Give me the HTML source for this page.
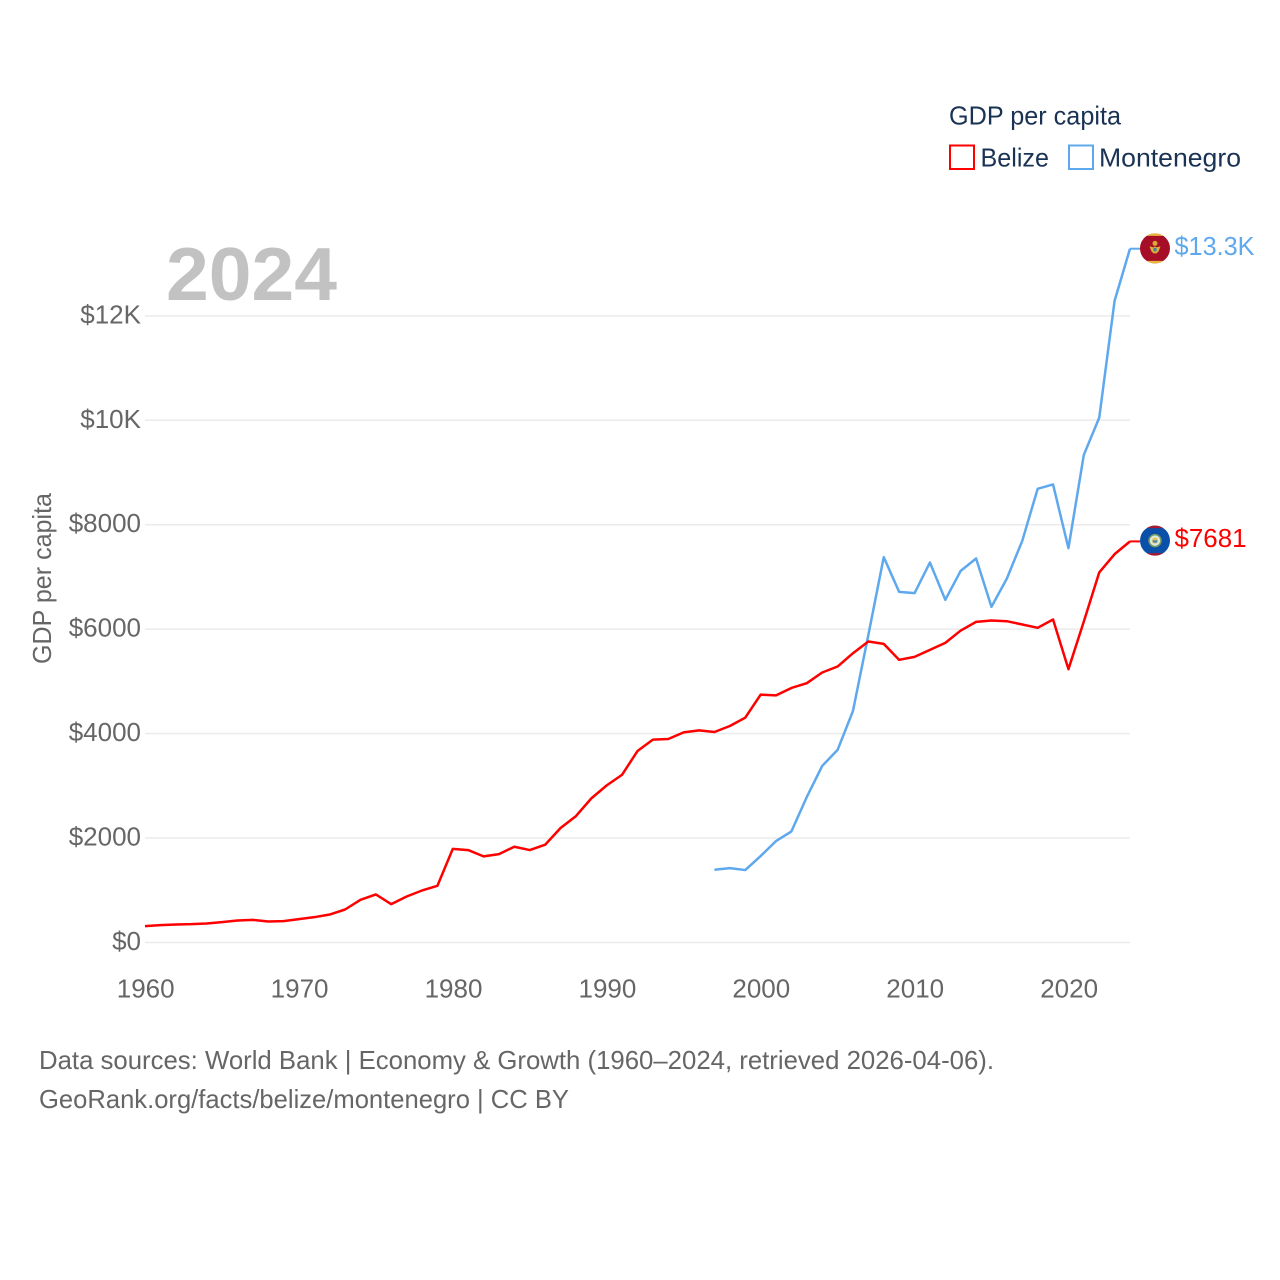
<!DOCTYPE html>
<html lang="en">
<head>
<meta charset="utf-8">
<title>GDP per capita: Belize and Montenegro</title>
<style>
  html, body { margin: 0; padding: 0; background: #fff; }
  svg { display: block; font-family: "Liberation Sans", sans-serif; }
</style>
</head>
<body>
<svg id="chart" xmlns="http://www.w3.org/2000/svg" width="1280" height="1280" viewBox="0 0 1280 1280">
  <rect width="1280" height="1280" fill="#ffffff"/>
  <g id="grid"></g>
  <g id="y-ticks"></g>
  <g id="x-ticks"></g>

  <text x="166" y="300" font-size="75" font-weight="700" fill="#c2c2c2" textLength="171" lengthAdjust="spacingAndGlyphs">2024</text>
  <text transform="translate(51,664) rotate(-90)" font-size="26" fill="#666666" textLength="171" lengthAdjust="spacingAndGlyphs">GDP per capita</text>

  <g id="series"></g>

  <g>
    <text x="949" y="124.500" font-size="26" fill="#1a3354" textLength="172" lengthAdjust="spacingAndGlyphs">GDP per capita</text>
    <g>
      <rect x="950" y="145.500" width="24" height="23.500" fill="#ffffff" stroke="#ff0000" stroke-width="2"/>
      <text x="980.500" y="166.500" font-size="26" fill="#1a3354" textLength="68.500" lengthAdjust="spacingAndGlyphs">Belize</text>
    </g>
    <g>
      <rect x="1069" y="145.500" width="24" height="23.500" fill="#ffffff" stroke="#5ea8ee" stroke-width="2"/>
      <text x="1099" y="166.500" font-size="26" fill="#1a3354" textLength="142" lengthAdjust="spacingAndGlyphs">Montenegro</text>
    </g>
  </g>

  <text x="39" y="1069" font-size="26" fill="#666666" textLength="955" lengthAdjust="spacingAndGlyphs">Data sources: World Bank | Economy &amp; Growth (1960–2024, retrieved 2026-04-06).</text>
  <text x="39" y="1108" font-size="26" fill="#666666" textLength="530" lengthAdjust="spacingAndGlyphs">GeoRank.org/facts/belize/montenegro | CC BY</text>
</svg>
<script>
const yTickValues = [0, 2000, 4000, 6000, 8000, 10000, 12000];
const yTickLabels = ["$0", "$2000", "$4000", "$6000", "$8000", "$10K", "$12K"];
const xTickYears = [1960, 1970, 1980, 1990, 2000, 2010, 2020];
const xTickLabels = ["1960", "1970", "1980", "1990", "2000", "2010", "2020"];

const belizeStartYear = 1960;
const belizeValues = [
  313, 332, 345, 351, 364, 390, 421, 434, 402, 409,
  447, 485, 536, 632, 817, 920, 734, 881, 996, 1086,
  1794, 1770, 1649, 1693, 1834, 1770, 1872, 2192, 2421, 2760,
  3009, 3213, 3667, 3884, 3897, 4024, 4063, 4031, 4146, 4305,
  4746, 4733, 4874, 4966, 5170, 5285, 5540, 5764, 5719, 5413,
  5470, 5604, 5738, 5974, 6140, 6166, 6153, 6089, 6026, 6185,
  5234, 6147, 7086, 7437, 7681
];
const belizeLabel = "$7681";

const montenegroStartYear = 1997;
const montenegroValues = [
  1393, 1425, 1387, 1655, 1943, 2128, 2787, 3381, 3688, 4435,
  5891, 7379, 6715, 6690, 7277, 6562, 7117, 7354, 6428, 6971,
  7692, 8688, 8771, 7552, 9339, 10048, 12290, 13286
];
const montenegroLabel = "$13.3K";

const NS = "http://www.w3.org/2000/svg";
function x(year) { return 145 + (year - 1960) * (985 / 64); }
function y(value) { return 942.5 - value * 0.05222; }
function make(tag, attrs, parent) {
  const el = document.createElementNS(NS, tag);
  for (const k in attrs) el.setAttribute(k, attrs[k]);
  parent.appendChild(el);
  return el;
}
const grid = document.getElementById("grid");
const yTicks = document.getElementById("y-ticks");
const xTicks = document.getElementById("x-ticks");
const series = document.getElementById("series");

yTickValues.forEach(function (v, i) {
  const line = make("line", { x1: 145, x2: 1130, y1: y(v), y2: y(v), stroke: "#ebebeb", "stroke-width": 1.5 }, grid);
  
  
  const t = make("text", { x: 141, y: y(v) + 7.5, "text-anchor": "end", "font-size": 26, fill: "#666666" }, yTicks);
  
  
  t.textContent = yTickLabels[i];
});

xTickYears.forEach(function (yr, i) {
  const t = make("text", { x: x(yr) + 0.7, y: 997.5, "text-anchor": "middle", "font-size": 26, fill: "#666666" }, xTicks);
  
  
  t.textContent = xTickLabels[i];
});

function pathFrom(startYear, values) {
  return values.map(function (v, i) {
    return (i ? "L" : "M") + x(startYear + i).toFixed(2) + " " + y(v).toFixed(2);
  }).join(" ");
}

const mLine = make("path", { d: pathFrom(montenegroStartYear, montenegroValues), fill: "none", stroke: "#5ea8ee", "stroke-width": 2.5, "stroke-linejoin": "round" }, series);



const bLine = make("path", { d: pathFrom(belizeStartYear, belizeValues), fill: "none", stroke: "#ff0000", "stroke-width": 2.5, "stroke-linejoin": "round" }, series);



const mLast = y(montenegroValues[montenegroValues.length - 1]);
const bLast = y(belizeValues[belizeValues.length - 1]);

const mConn = make("line", { x1: 1130, x2: 1140, y1: mLast, y2: mLast, stroke: "#5ea8ee", "stroke-width": 2 }, series);


const bConn = make("line", { x1: 1130, x2: 1140, y1: bLast, y2: bLast, stroke: "#ff0000", "stroke-width": 2 }, series);



/* Montenegro flag badge */
const mFlag = make("g", { transform: "translate(1155," + (mLast - 0.3) + ")" }, series);


make("circle", { r: 15, fill: "#a50e26" }, mFlag);
make("path", { d: "M-8.3 -12.5 A15 15 0 0 1 8.3 -12.5 Z M-8.3 12.5 A15 15 0 0 0 8.3 12.5 Z", fill: "#e6b93c" }, mFlag);
make("circle", { cx: 0, cy: -5, r: 2.5, fill: "#d9a932" }, mFlag);
make("path", { d: "M-5.5 -2 L-1.5 -1 L0 -2 L1.5 -1 L5.5 -2 L3.5 3 L1.5 5 L-1.5 5 L-3.5 3 Z", fill: "#dcb23a" }, mFlag);
make("rect", { x: -1.5, y: -0.5, width: 3, height: 3.5, fill: "#3f7f9f" }, mFlag);

/* Belize flag badge */
const bFlag = make("g", { transform: "translate(1155," + (bLast - 0.8) + ")" }, series);


make("circle", { r: 15, fill: "#0a50a8" }, bFlag);
make("path", { d: "M-8.3 -12.5 A15 15 0 0 1 8.3 -12.5 Z M-8.3 12.5 A15 15 0 0 0 8.3 12.5 Z", fill: "#a81a30" }, bFlag);
make("circle", { r: 6, fill: "#dfe8d8", stroke: "#6f9a66", "stroke-width": 1.5 }, bFlag);
make("circle", { r: 3, fill: "#e0c45a" }, bFlag);
make("rect", { x: -2.2, y: -0.3, width: 4.4, height: 2.3, fill: "#4f86b5" }, bFlag);

const mVal = make("text", { x: 1174.5, y: mLast + 6.5, "font-size": 26, fill: "#5ea8ee", textLength: 80, lengthAdjust: "spacingAndGlyphs" }, series);


mVal.textContent = montenegroLabel;

const bVal = make("text", { x: 1174.5, y: bLast + 5.5, "font-size": 26, fill: "#ff0000", textLength: 72, lengthAdjust: "spacingAndGlyphs" }, series);


bVal.textContent = belizeLabel;
</script>
</body>
</html>
